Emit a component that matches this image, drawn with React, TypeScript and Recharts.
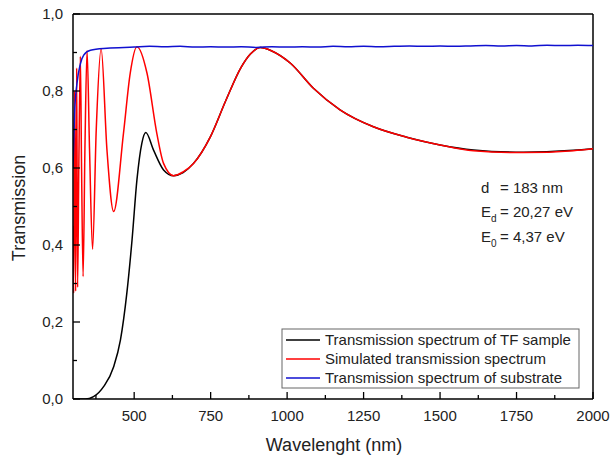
import React from 'react';
import { LineChart, Line, XAxis, YAxis, ReferenceLine } from 'recharts';

// measured spectrum of the thin film (black)
const sampleNm = [300, 340, 367, 400, 433, 455, 476, 493, 509, 525, 538, 563, 596, 629, 660, 694, 749, 800, 850, 880, 912, 950, 1011, 1086, 1173, 1282, 1391, 1500, 1609, 1773, 1936, 2000];
const sampleT = [0.0, 0.0, 0.006, 0.032, 0.084, 0.153, 0.275, 0.413, 0.569, 0.664, 0.692, 0.647, 0.595, 0.58, 0.588, 0.612, 0.681, 0.776, 0.862, 0.896, 0.913, 0.904, 0.872, 0.807, 0.751, 0.707, 0.68, 0.66, 0.647, 0.641, 0.646, 0.65];

// simulated spectrum (red)
const simNm = [300, 302, 305, 308.5, 312, 315, 319, 324, 328, 333, 339, 346, 354, 364, 376, 392, 411, 433, 465, 487, 509, 542, 574, 596, 629, 660, 694, 749, 800, 850, 880, 912, 950, 1011, 1086, 1173, 1282, 1391, 1500, 1609, 1773, 1936, 2000];
const simT = [0.45, 0.275, 0.8, 0.28, 0.86, 0.29, 0.6, 0.89, 0.6, 0.318, 0.65, 0.905, 0.65, 0.389, 0.7, 0.91, 0.647, 0.487, 0.69, 0.846, 0.915, 0.846, 0.69, 0.612, 0.58, 0.59, 0.612, 0.681, 0.776, 0.862, 0.896, 0.913, 0.904, 0.872, 0.807, 0.751, 0.707, 0.68, 0.66, 0.645, 0.64, 0.645, 0.65];

// substrate (blue)
const subNm = [300, 305, 313, 324, 335, 357, 411, 500, 550, 600, 650, 700, 750, 800, 850, 900, 950, 1000, 1050, 1100, 1150, 1200, 1250, 1300, 1350, 1400, 1450, 1500, 1550, 1600, 1650, 1700, 1750, 1800, 1850, 1900, 1950, 2000];
const subT = [0.6, 0.74, 0.82, 0.87, 0.893, 0.906, 0.911, 0.914, 0.916, 0.915, 0.916, 0.914, 0.915, 0.914, 0.915, 0.913, 0.915, 0.914, 0.915, 0.914, 0.916, 0.915, 0.916, 0.915, 0.916, 0.917, 0.916, 0.917, 0.916, 0.917, 0.918, 0.917, 0.918, 0.917, 0.919, 0.918, 0.919, 0.918];

const xTicks = [375, 500, 625, 750, 875, 1000, 1125, 1250, 1375, 1500, 1625, 1750, 1875, 2000];
const yTicks = [0, 0.1, 0.2, 0.3, 0.4, 0.5, 0.6, 0.7, 0.8, 0.9, 1.0];

const legendItems = [
  { label: 'Transmission spectrum of TF sample', color: '#000000' },
  { label: 'Simulated transmission spectrum', color: '#ff0000' },
  { label: 'Transmission spectrum of substrate', color: '#1010d0' },
];

const toPoints = (xs: number[], ys: number[]) => xs.map((x, i) => ({ x, y: ys[i] }));

const XTick = (props: any) => {
  const { x, y, payload } = props;
  const v = payload.value;
  const major = v % 250 === 0;
  return (
    <g>
      <line x1={x} y1={y} x2={x} y2={y - (major ? 7 : 4)} stroke="#000" strokeWidth={1.3} />
      {major && (
        <text x={x} y={y + 22} textAnchor="middle" fontSize={15} fill="#222">
          {v}
        </text>
      )}
    </g>
  );
};

const YTick = (props: any) => {
  const { x, y, payload } = props;
  const v = payload.value;
  const major = Math.round(v * 10) % 2 === 0;
  return (
    <g>
      <line x1={x} y1={y} x2={x + (major ? 7 : 4)} y2={y} stroke="#000" strokeWidth={1.3} />
      {major && (
        <text x={x - 10} y={y + 5} textAnchor="end" fontSize={15} fill="#222">
          {v.toFixed(1).replace('.', ',')}
        </text>
      )}
    </g>
  );
};

export default function App() {
  return (
    <div style={{ position: 'absolute', left: 0, top: 0, width: 610, height: 459, background: '#fff', fontFamily: '"Liberation Sans", Arial, sans-serif' }}>
      <LineChart width={610} height={459} margin={{ top: 14, right: 17, bottom: 0, left: 0 }}>
        <XAxis
          dataKey="x"
          type="number"
          domain={[300, 2000]}
          ticks={xTicks}
          interval={0}
          tick={<XTick />}
          tickSize={0}
          tickMargin={0}
          height={60}
          axisLine={{ stroke: '#000', strokeWidth: 1.5 }}
          allowDataOverflow
        />
        <YAxis
          type="number"
          domain={[0, 1]}
          ticks={yTicks}
          interval={0}
          tick={<YTick />}
          tickSize={0}
          tickMargin={0}
          width={73}
          axisLine={{ stroke: '#000', strokeWidth: 1.5 }}
          allowDataOverflow
        />
        <ReferenceLine y={1} stroke="#000" strokeWidth={1.5} />
        <ReferenceLine x={2000} stroke="#000" strokeWidth={1.5} />
        <Line data={toPoints(sampleNm, sampleT)} dataKey="y" type="monotone" stroke="#000000" strokeWidth={1.5} dot={false} isAnimationActive={false} />
        <Line data={toPoints(simNm, simT)} dataKey="y" type="monotone" stroke="#ff0000" strokeWidth={1.5} dot={false} isAnimationActive={false} />
        <Line data={toPoints(subNm, subT)} dataKey="y" type="monotone" stroke="#1010d0" strokeWidth={1.5} dot={false} isAnimationActive={false} />
      </LineChart>

      <svg width={610} height={459} style={{ position: 'absolute', left: 0, top: 0, pointerEvents: 'none' }}>
        <text x={334} y={451} textAnchor="middle" fontSize={18} fill="#222">Wavelenght (nm)</text>
        <text x={0} y={0} transform="translate(25,208) rotate(-90)" textAnchor="middle" fontSize={18} fill="#222">Transmission</text>

        <text x={481} y={193} fontSize={15} fill="#222">d</text>
        <text x={500} y={193} fontSize={15} fill="#222">= 183 nm</text>
        <text x={481} y={217} fontSize={15} fill="#222">E</text>
        <text x={491} y={222} fontSize={10} fill="#222">d</text>
        <text x={500} y={217} fontSize={15} fill="#222">= 20,27 eV</text>
        <text x={481} y={242} fontSize={15} fill="#222">E</text>
        <text x={491} y={247} fontSize={10} fill="#222">0</text>
        <text x={500} y={242} fontSize={15} fill="#222">= 4,37 eV</text>

        <rect x={282} y={329} width={297} height={59} fill="#fff" stroke="#666" strokeWidth={1} />
        {legendItems.map((item, i) => (
          <g key={item.label}>
            <line x1={286} x2={320} y1={340 + i * 19} y2={340 + i * 19} stroke={item.color} strokeWidth={1.5} />
            <text x={325} y={345 + i * 19} fontSize={15} fill="#222">{item.label}</text>
          </g>
        ))}
      </svg>
    </div>
  );
}
